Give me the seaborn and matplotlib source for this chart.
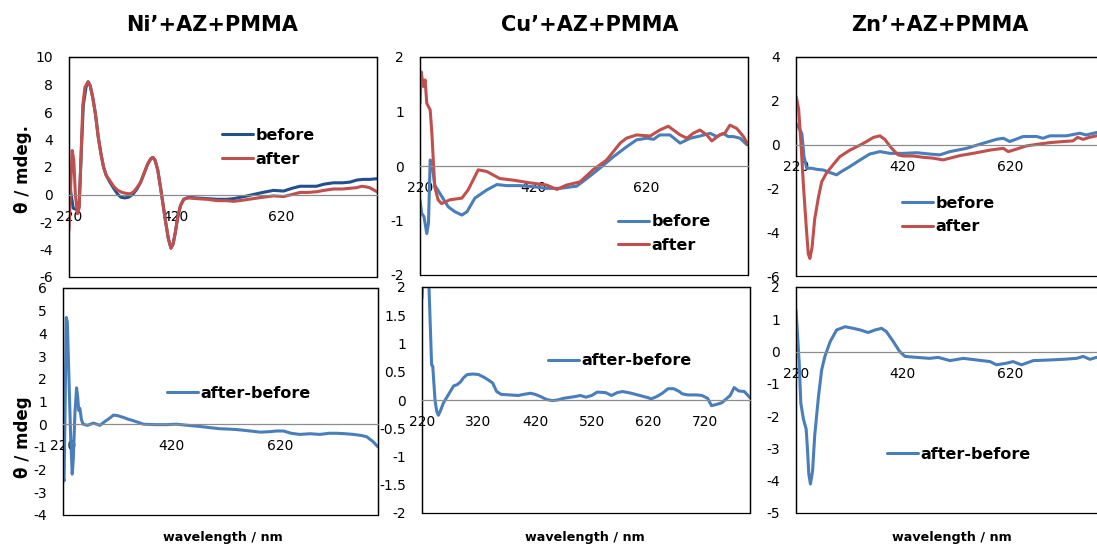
import matplotlib
matplotlib.use("Agg")
import matplotlib.pyplot as plt
import seaborn as sns
import pandas as pd
from matplotlib.ticker import FuncFormatter

sns.set_theme(style="white")
plt.rcParams['font.family'] = ['DejaVu Sans']
plt.rcParams['axes.unicode_minus'] = False
plt.rcParams['text.color'] = 'black'
plt.rcParams['axes.labelcolor'] = 'black'
plt.rcParams['xtick.color'] = 'black'
plt.rcParams['ytick.color'] = 'black'

# ---------------- data ----------------
titles = ["Ni\u2019+AZ+PMMA", "Cu\u2019+AZ+PMMA", "Zn\u2019+AZ+PMMA"]

ni_before_wl = [220, 224, 228, 234, 239, 243, 247, 252, 256, 260, 265, 270, 275, 280, 285, 290, 297, 305, 312,
                318, 325, 332, 340, 348, 355, 362, 368, 374, 378, 382, 387, 392, 397, 402, 407, 412, 416, 420,
                425, 430, 436, 445, 460, 480, 500, 517, 530, 550, 567, 585, 605, 624, 640, 655, 670, 686, 700,
                718, 735, 749, 762, 774, 787, 800]
ni_before = [1.3, 0.0, -1.0, -1.1, -0.9, 3.0, 6.5, 7.8, 8.2, 7.9, 7.0, 5.8, 4.2, 3.0, 2.0, 1.4, 0.9, 0.4, 0.0,
             -0.2, -0.25, -0.2, 0.0, 0.4, 0.9, 1.6, 2.2, 2.6, 2.7, 2.5, 1.8, 0.6, -0.7, -2.0, -3.2, -3.9, -3.6,
             -2.8, -1.6, -0.8, -0.35, -0.2, -0.25, -0.3, -0.35, -0.35, -0.3, -0.15, 0.0, 0.15, 0.3, 0.25, 0.45,
             0.6, 0.6, 0.6, 0.75, 0.85, 0.85, 0.9, 1.05, 1.1, 1.1, 1.15]

ni_after_wl = [220, 223, 226, 229, 232, 236, 239, 242, 246, 250, 256, 260, 265, 270, 275, 280, 285, 290, 297,
               305, 312, 320, 328, 335, 342, 348, 355, 362, 368, 374, 378, 382, 387, 392, 397, 402, 407, 412,
               416, 420, 425, 430, 436, 445, 460, 480, 500, 517, 530, 550, 567, 585, 605, 624, 640, 655, 670,
               686, 700, 718, 735, 749, 762, 771, 780, 786, 793, 800]
ni_after = [-2.6, 0.5, 3.2, 2.5, 0.0, -1.4, -1.0, 2.0, 6.5, 7.8, 8.2, 7.9, 7.0, 5.8, 4.2, 3.0, 2.0, 1.4, 1.0,
            0.55, 0.3, 0.15, 0.08, 0.05, 0.2, 0.5, 0.9, 1.6, 2.2, 2.6, 2.7, 2.5, 1.8, 0.6, -0.7, -2.0, -3.2,
            -3.9, -3.6, -2.8, -1.6, -0.8, -0.35, -0.25, -0.3, -0.35, -0.45, -0.45, -0.5, -0.4, -0.3, -0.2,
            -0.1, -0.15, 0.0, 0.15, 0.15, 0.2, 0.3, 0.4, 0.4, 0.45, 0.5, 0.6, 0.55, 0.5, 0.35, 0.2]

ni_diff_wl = [220, 222, 224, 226, 228, 231, 234, 237, 239, 242, 245, 247, 249, 251, 254, 257, 265, 276, 288,
              296, 305, 313, 320, 331, 340, 350, 360, 368, 390, 410, 429, 450, 472, 490, 509, 530, 546, 565,
              583, 600, 613, 626, 640, 656, 675, 693, 710, 724, 740, 755, 770, 779, 790, 800]
ni_diff = [-2.3, -2.5, 1.0, 4.7, 4.5, 2.0, -0.5, -2.2, -1.5, 0.5, 1.6, 1.2, 0.6, 0.7, 0.2, 0.0, -0.05, 0.05,
           -0.05, 0.1, 0.25, 0.4, 0.38, 0.3, 0.22, 0.15, 0.07, 0.0, -0.02, -0.02, 0.0, -0.05, -0.1, -0.15,
           -0.2, -0.22, -0.25, -0.3, -0.35, -0.33, -0.3, -0.3, -0.4, -0.45, -0.42, -0.45, -0.4, -0.4, -0.42,
           -0.45, -0.5, -0.55, -0.75, -1.0]

cu_before_wl = [220, 223, 227, 232, 235, 238, 241, 246, 255, 270, 282, 294, 303, 317, 338, 356, 373, 397, 420,
                444, 468, 497, 515, 538, 562, 585, 603, 621, 633, 644, 662, 680, 698, 715, 733, 745, 756, 765,
                774, 786, 798]
cu_before = [-0.62, -0.87, -0.93, -1.24, -1.05, 0.11, 0.08, -0.35, -0.5, -0.75, -0.84, -0.9, -0.84, -0.59,
             -0.44, -0.34, -0.36, -0.36, -0.38, -0.41, -0.41, -0.37, -0.23, -0.04, 0.17, 0.35, 0.48, 0.51,
             0.49, 0.57, 0.57, 0.42, 0.51, 0.55, 0.6, 0.54, 0.6, 0.54, 0.54, 0.51, 0.39]

cu_after_wl = [220, 222, 226, 229, 232, 238, 241, 246, 252, 258, 273, 294, 305, 323, 338, 361, 385, 415, 444,
               462, 479, 503, 526, 550, 574, 585, 603, 627, 644, 659, 680, 692, 703, 715, 727, 736, 750, 759,
               768, 780, 792, 800]
cu_after = [1.15, 1.73, 1.46, 1.58, 1.15, 1.03, 0.6, -0.38, -0.62, -0.69, -0.62, -0.59, -0.44, -0.07, -0.1,
            -0.23, -0.26, -0.31, -0.35, -0.43, -0.35, -0.29, -0.07, 0.11, 0.42, 0.51, 0.57, 0.55, 0.66, 0.73,
            0.57, 0.51, 0.6, 0.66, 0.57, 0.46, 0.57, 0.6, 0.75, 0.69, 0.54, 0.39]

cu_diff_wl = [220, 224, 232, 237, 239, 243, 246, 249, 253, 258, 264, 270, 276, 282, 288, 294, 300, 310, 320,
              330, 338, 345, 352, 360, 375, 390, 400, 412, 420, 430, 440, 450, 460, 470, 490, 500, 510, 520,
              530, 545, 555, 565, 575, 590, 605, 620, 625, 635, 645, 655, 665, 675, 680, 690, 705, 715, 725,
              732, 740, 750, 758, 765, 772, 780, 790, 800]
cu_diff = [1.8, 2.6, 2.1, 0.62, 0.6, 0.0, -0.2, -0.27, -0.18, -0.05, 0.05, 0.15, 0.25, 0.27, 0.32, 0.4, 0.45,
           0.46, 0.45, 0.4, 0.35, 0.3, 0.15, 0.1, 0.09, 0.08, 0.1, 0.12, 0.1, 0.06, 0.01, -0.01, 0.0, 0.03,
           0.06, 0.08, 0.05, 0.08, 0.14, 0.13, 0.08, 0.13, 0.15, 0.12, 0.08, 0.04, 0.02, 0.06, 0.12, 0.2, 0.2,
           0.15, 0.11, 0.09, 0.09, 0.08, 0.03, -0.1, -0.08, -0.05, 0.02, 0.08, 0.22, 0.16, 0.15, 0.04]

zn_before_wl = [220, 224, 231, 235, 240, 249, 259, 271, 284, 296, 305, 321, 340, 358, 377, 396, 421, 446, 470,
                489, 508, 539, 570, 595, 608, 620, 645, 670, 682, 695, 726, 751, 763, 782, 800]
zn_before = [0.97, 0.82, 0.5, -0.55, -1.08, -1.08, -1.13, -1.16, -1.28, -1.38, -1.23, -1.0, -0.7, -0.43,
             -0.32, -0.4, -0.4, -0.37, -0.43, -0.47, -0.32, -0.17, 0.06, 0.24, 0.29, 0.14, 0.37, 0.37, 0.29,
             0.4, 0.4, 0.52, 0.44, 0.55, 0.55]

zn_after_wl = [220, 222, 225, 229, 234, 239, 243, 246, 250, 255, 262, 268, 277, 290, 302, 321, 340, 352, 365,
               377, 386, 399, 411, 421, 439, 458, 477, 495, 508, 527, 558, 583, 608, 617, 632, 651, 676, 695,
               720, 738, 747, 757, 769, 782, 800]
zn_after = [2.2, 2.0, 1.6, 0.2, -1.9, -3.7, -5.0, -5.2, -4.7, -3.4, -2.4, -1.7, -1.3, -0.9, -0.55, -0.25,
            -0.02, 0.14, 0.33, 0.4, 0.24, -0.17, -0.47, -0.52, -0.52, -0.58, -0.62, -0.7, -0.62, -0.5, -0.37,
            -0.25, -0.17, -0.32, -0.21, -0.06, 0.03, 0.09, 0.14, 0.17, 0.33, 0.24, 0.33, 0.4, 0.45]

zn_diff_wl = [220, 222, 226, 229, 234, 239, 241, 244, 247, 251, 255, 262, 268, 274, 284, 296, 312, 327, 340,
              355, 368, 380, 389, 402, 414, 424, 446, 470, 486, 508, 533, 558, 583, 595, 614, 626, 642, 664,
              695, 720, 745, 757, 770, 782, 800]
zn_diff = [1.29, 0.77, -0.36, -1.6, -2.1, -2.4, -2.9, -3.8, -4.1, -3.7, -2.6, -1.4, -0.57, -0.15, 0.31, 0.67,
           0.77, 0.72, 0.67, 0.59, 0.67, 0.72, 0.62, 0.31, 0.0, -0.15, -0.18, -0.21, -0.18, -0.28, -0.21,
           -0.26, -0.31, -0.41, -0.36, -0.31, -0.41, -0.28, -0.26, -0.24, -0.21, -0.15, -0.24, -0.18, -0.2]

top_xticks = [220, 420, 620]
cu_diff_xticks = [220, 320, 420, 520, 620, 720]
ni_top_yticks = [-6, -4, -2, 0, 2, 4, 6, 8, 10]
cu_top_yticks = [-2, -1, 0, 1, 2]
zn_top_yticks = [-6, -4, -2, 0, 2, 4]
ni_bot_yticks = [-4, -3, -2, -1, 0, 1, 2, 3, 4, 5, 6]
cu_bot_yticks = [-2, -1.5, -1, -0.5, 0, 0.5, 1, 1.5, 2]
zn_bot_yticks = [-5, -4, -3, -2, -1, 0, 1, 2]

NAVY = "#23508C"
BLUE = "#4A7EBB"
RED = "#C0504D"

# ---------------- layout ----------------
W, H = 1097, 546
fig = plt.figure(figsize=(W / 100, H / 100), dpi=100)


def add_axes(l, t, r, b):
    return fig.add_axes([l / W, 1 - b / H, (r - l) / W, (b - t) / H])


def style(ax, yticks, xticks):
    ax.set_xlim(220, 800)
    ax.set_ylim(min(yticks), max(yticks))
    ax.set_yticks(yticks)
    ax.set_xticks(xticks)
    ax.yaxis.set_major_formatter(FuncFormatter(lambda v, p: f"{v:g}"))
    ax.xaxis.set_major_formatter(FuncFormatter(lambda v, p: f"{v:g}"))
    for s in ['top', 'left', 'right']:
        ax.spines[s].set_visible(True)
        ax.spines[s].set_color('black')
        ax.spines[s].set_linewidth(0.9)
    ax.spines['bottom'].set_position(('data', 0))
    ax.spines['bottom'].set_color('#8C8C8C')
    ax.spines['bottom'].set_linewidth(0.9)
    ax.patch.set_edgecolor('black')
    ax.patch.set_linewidth(0.9)
    ax.tick_params(axis='both', length=0, labelsize=10, labelcolor='black')
    ax.tick_params(axis='y', pad=11.5)
    ax.tick_params(axis='x', pad=11)
    ax.set_xlabel('')
    ax.set_ylabel('')
    ax.grid(False)


def draw(ax, series):
    for wl, vals, color, label in series:
        df = pd.DataFrame({"wl": wl, "v": vals})
        sns.lineplot(data=df, x="wl", y="v", ax=ax, color=color, linewidth=2.2, label=label)


def legend(ax, fx, fy):
    leg = ax.legend(loc='center left', bbox_to_anchor=(fx, fy), frameon=False, borderpad=0, borderaxespad=0,
                    handlelength=1.95, handletextpad=0.15, labelspacing=0.55,
                    prop={'weight': 'bold', 'size': 11.5})
    for t in leg.get_texts():
        t.set_color('black')


panels = [
    ((69, 57, 377, 277), ni_top_yticks, top_xticks,
     [(ni_before_wl, ni_before, NAVY, "before"), (ni_after_wl, ni_after, RED, "after")], (0.497, 0.589)),
    ((420, 57, 748, 275), cu_top_yticks, top_xticks,
     [(cu_before_wl, cu_before, BLUE, "before"), (cu_after_wl, cu_after, RED, "after")], (0.604, 0.19)),
    ((796, 57, 1106, 276), zn_top_yticks, top_xticks,
     [(zn_before_wl, zn_before, BLUE, "before"), (zn_after_wl, zn_after, RED, "after")], (0.342, 0.279)),
    ((63, 288, 378, 515), ni_bot_yticks, top_xticks,
     [(ni_diff_wl, ni_diff, BLUE, "after-before")], (0.33, 0.537)),
    ((422, 287, 750, 513), cu_bot_yticks, cu_diff_xticks,
     [(cu_diff_wl, cu_diff, BLUE, "after-before")], (0.384, 0.673)),
    ((796, 287, 1106, 513), zn_bot_yticks, top_xticks,
     [(zn_diff_wl, zn_diff, BLUE, "after-before")], (0.294, 0.261)),
]

for box, yt, xt, series, leg in panels:
    ax = add_axes(*box)
    draw(ax, series)
    style(ax, yt, xt)
    legend(ax, *leg)

# titles and axis labels
for txt, xc in zip(titles, [212, 590, 940]):
    fig.text(xc / W, 1 - 25 / H, txt, ha='center', va='center', fontsize=15, fontweight='bold', color='black')

fig.text(23 / W, 1 - 169 / H, "\u03b8 / mdeg.", rotation=90, ha='center', va='center',
         fontsize=12, fontweight='bold', color='black')
fig.text(23 / W, 1 - 437 / H, "\u03b8 / mdeg", rotation=90, ha='center', va='center',
         fontsize=12, fontweight='bold', color='black')
for xc in [223, 585, 952]:
    fig.text(xc / W, 1 - 537 / H, "wavelength / nm", ha='center', va='center', fontsize=9.2,
             fontweight='bold', color='black')

fig.savefig("out.png", dpi=100)
